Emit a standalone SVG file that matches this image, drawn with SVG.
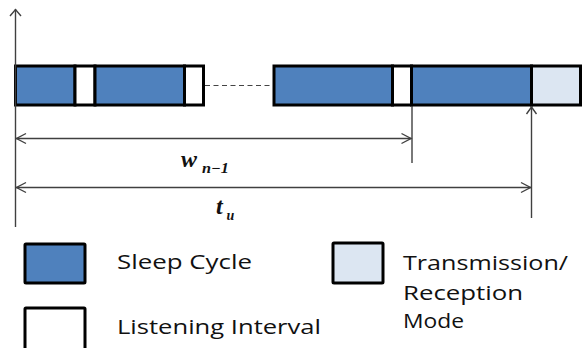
<svg xmlns="http://www.w3.org/2000/svg" width="584" height="348" viewBox="0 0 584 348">
  <style>
    .seg { stroke: #000; stroke-width: 3; }
    .sleep { fill: #4F81BD; }
    .listen { fill: #FFFFFF; }
    .trx { fill: #DCE6F2; }
    .axis { stroke: #404040; stroke-width: 1.4; fill: none; }
    .head { stroke: #404040; stroke-width: 1.4; fill: none; stroke-linejoin: miter; }
    .math { font-family: "Liberation Serif", "Times New Roman", serif; font-weight: bold; font-style: italic; fill: #111; }
    .legend { font-family: "Open Sans", "Liberation Sans", Arial, sans-serif; font-size: 20px; fill: #111; }
  </style>
  <rect width="584" height="348" fill="#FFFFFF"/>

  <!-- timeline: first run of cycles -->
  <g id="bar-first">
    <rect class="seg sleep" x="15.5" y="66" width="59.5" height="39"/>
    <rect class="seg listen" x="75" y="66" width="20" height="39"/>
    <rect class="seg sleep" x="95" y="66" width="89.5" height="39"/>
    <rect class="seg listen" x="184.5" y="66" width="19" height="39"/>
  </g>

  <!-- timeline: last run of cycles and transmission -->
  <g id="bar-last">
    <rect class="seg sleep" x="274" y="66" width="118.5" height="39"/>
    <rect class="seg listen" x="392.5" y="66" width="19" height="39"/>
    <rect class="seg sleep" x="411.5" y="66" width="120" height="39"/>
    <rect class="seg trx" x="531.5" y="66" width="49" height="39"/>
  </g>

  <g id="connectors">
    <!-- gap between the two runs -->
    <line x1="205" y1="85.5" x2="272.5" y2="85.5" stroke="#444" stroke-width="1.2" stroke-dasharray="5 3.5"/>
    <!-- time axis -->
    <line class="axis" x1="15.5" y1="9" x2="15.5" y2="227"/>
    <polyline class="head" points="10,16 15.5,9.5 21,16"/>
    <!-- markers dropping from the bar -->
    <line class="axis" x1="412" y1="106" x2="412" y2="163"/>
    <line class="axis" x1="531.5" y1="106.5" x2="531.5" y2="218"/>
    <polyline class="head" points="526.5,114 531.5,107 536.5,114"/>
    <!-- w_{n-1} span -->
    <line class="axis" x1="16" y1="138.5" x2="411.5" y2="138.5"/>
    <polyline class="head" points="26,133.5 16.5,138.5 26,143.5"/>
    <polyline class="head" points="401.5,133.5 411,138.5 401.5,143.5"/>
    <!-- t_u span -->
    <line class="axis" x1="16" y1="187.5" x2="531" y2="187.5"/>
    <polyline class="head" points="26,182.5 16.5,187.5 26,192.5"/>
    <polyline class="head" points="521,182.5 530.5,187.5 521,192.5"/>
  </g>

  <g id="label-w">
    <text class="math" x="181" y="167" font-size="24">w</text>
    <text class="math" x="202" y="173" font-size="14" textLength="27" lengthAdjust="spacingAndGlyphs">n−1</text>
  </g>
  <g id="label-t">
    <text class="math" x="216" y="214" font-size="24">t</text>
    <text class="math" x="226.5" y="220" font-size="14">u</text>
  </g>

  <g id="legend-sleep">
    <rect class="seg sleep" x="25" y="244" width="60" height="39" rx="1"/>
    <text class="legend" x="117" y="269" textLength="135" lengthAdjust="spacingAndGlyphs">Sleep Cycle</text>
  </g>
  <g id="legend-listen">
    <rect class="seg listen" x="25" y="308" width="60" height="42" rx="1"/>
    <text class="legend" x="117" y="334" textLength="204" lengthAdjust="spacingAndGlyphs">Listening Interval</text>
  </g>
  <g id="legend-trx">
    <rect class="seg trx" x="333" y="243" width="50" height="40" rx="1"/>
    <text class="legend" x="403" y="270" textLength="165" lengthAdjust="spacingAndGlyphs">Transmission/</text>
    <text class="legend" x="403" y="300" textLength="120" lengthAdjust="spacingAndGlyphs">Reception</text>
    <text class="legend" x="403" y="328" textLength="61" lengthAdjust="spacingAndGlyphs">Mode</text>
  </g>
</svg>
